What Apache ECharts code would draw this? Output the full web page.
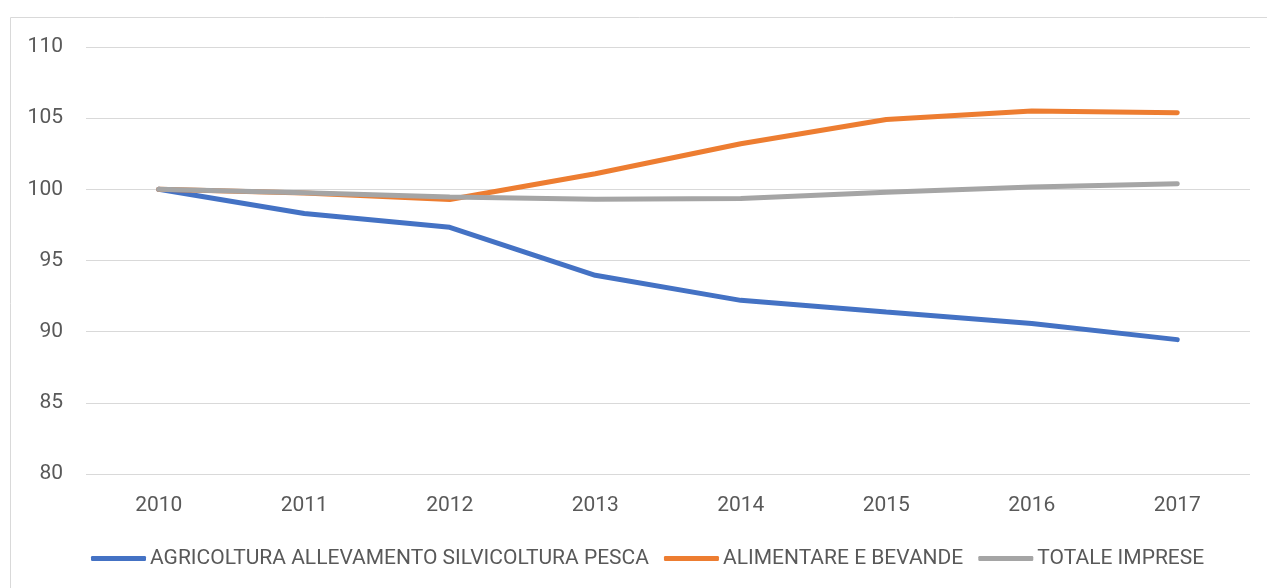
<!DOCTYPE html>
<html>
<head>
<meta charset="utf-8">
<script src="https://cdn.jsdelivr.net/npm/echarts@6/dist/echarts.min.js"></script>
<style>
  html, body { margin: 0; padding: 0; background: #fff; }
  #chart { width: 1267px; height: 588px; }
</style>
</head>
<body>
<div id="chart"></div>
<script>
  var years = ['2010', '2011', '2012', '2013', '2014', '2015', '2016', '2017'];
  var agricoltura = [100, 98.3, 97.33, 93.96, 92.2, 91.38, 90.57, 89.44];
  var alimentare = [100, 99.75, 99.28, 101.1, 103.2, 104.9, 105.5, 105.38];
  var totale = [100, 99.76, 99.46, 99.3, 99.35, 99.8, 100.16, 100.4];

  var textColor = '#595959';
  var font = 'Roboto';

  var chart = echarts.init(document.getElementById('chart'));
  chart.setOption({
    animation: false,
    textStyle: {fontFamily: font},
    graphic: [{
      type: 'rect',
      shape: {x: 10.5, y: 17.5, width: 1300, height: 600},
      style: {fill: 'none', stroke: '#d9d9d9', lineWidth: 1},
      silent: true
    }],
    grid: {left: 86, right: 17, top: 47, bottom: 114},
    legend: {
      left: 86,
      top: 543,
      icon: 'roundRect',
      itemWidth: 55,
      itemHeight: 5,
      itemGap: 15,
      textStyle: {color: textColor, fontSize: 21, fontFamily: font, padding: [0, 0, 0, -1]},
      data: ['AGRICOLTURA ALLEVAMENTO SILVICOLTURA PESCA', 'ALIMENTARE E BEVANDE', 'TOTALE IMPRESE']
    },
    xAxis: {
      type: 'category',
      data: years,
      boundaryGap: true,
      axisLine: {show: false},
      axisTick: {show: false},
      axisLabel: {color: textColor, fontSize: 21, margin: 21}
    },
    yAxis: {
      type: 'value',
      min: 80,
      max: 110,
      interval: 5,
      axisLine: {show: false},
      axisTick: {show: false},
      axisLabel: {color: textColor, fontSize: 21, margin: 23},
      splitLine: {lineStyle: {color: '#d9d9d9', width: 1}}
    },
    series: [
      {
        name: 'AGRICOLTURA ALLEVAMENTO SILVICOLTURA PESCA',
        type: 'line',
        data: agricoltura,
        symbol: 'none',
        itemStyle: {color: '#4472c4'},
        lineStyle: {color: '#4472c4', width: 5, cap: 'round'},
        z: 2
      },
      {
        name: 'ALIMENTARE E BEVANDE',
        type: 'line',
        data: alimentare,
        symbol: 'none',
        itemStyle: {color: '#ed7d31'},
        lineStyle: {color: '#ed7d31', width: 5, cap: 'round'},
        z: 3
      },
      {
        name: 'TOTALE IMPRESE',
        type: 'line',
        data: totale,
        symbol: 'none',
        itemStyle: {color: '#a5a5a5'},
        lineStyle: {color: '#a5a5a5', width: 5, cap: 'round'},
        z: 4
      }
    ]
  });
</script>
</body>
</html>
